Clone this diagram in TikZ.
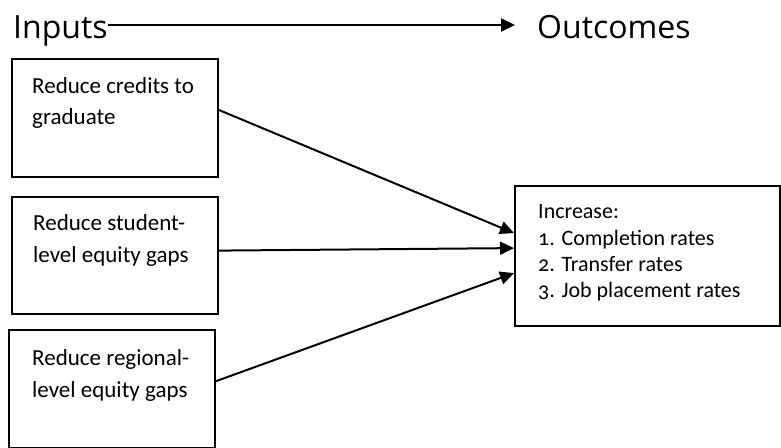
\documentclass[tikz,border=0pt]{standalone}
\usepackage{fontspec}
\setmainfont{Carlito}[Numbers=OldStyle]
\newfontfamily\titlefont{Open Sans}
\usetikzlibrary{arrows.meta}
\begin{document}
\begin{tikzpicture}[x=1pt,y=1pt,
  box/.style={draw=black, line width=2.2pt, anchor=north west, inner sep=0pt},
  txt/.style={anchor=base west, inner sep=0pt, font=\fontsize{23}{28}\selectfont},
  otxt/.style={anchor=base west, inner sep=0pt, font=\fontsize{22}{26}\selectfont},
  ttl/.style={anchor=base west, inner sep=0pt, font=\titlefont\fontsize{32}{38}\selectfont},
  arr/.style={line width=2pt, -{Triangle[length=14pt,width=13pt]}}]
\useasboundingbox (0,0) rectangle (781,-447);
% titles
\node[ttl] (inp) at (13,-38) {Inputs};
\node[ttl] (outc) at (537,-38) {Outcomes};
\draw[arr] ([yshift=13pt]inp.base east) -- ([yshift=13pt,xshift=-22pt]outc.base west);
% input boxes
\node[box, minimum width=206pt, minimum height=118pt] (b1) at (11,-58) {};
\node[box, minimum width=206pt, minimum height=117pt] (b2) at (11,-196) {};
\node[box, minimum width=206pt, minimum height=118pt] (b3) at (8,-329) {};
\node[txt] (t1a) at (32,-93) {Reduce credits to};
\node[txt] (t1b) at (32,-124) {graduate};
\node[txt] (t2a) at (33,-230) {Reduce student-};
\node[txt] (t2b) at (33,-262) {level equity gaps};
\node[txt] (t3a) at (32,-365) {Reduce regional-};
\node[txt] (t3b) at (32,-397) {level equity gaps};
% outcome box
\node[box, minimum width=265pt, minimum height=140pt] (out) at (514,-185) {};
\node[otxt] (o1) at (538,-218) {Increase:};
\node[otxt] (o2) at (538,-245) {1. Completion rates};
\node[otxt] (o3) at (538,-271) {2. Transfer rates};
\node[otxt] (o4) at (538,-297) {3. Job placement rates};
% connectors
\draw[arr] ([yshift=8pt]b1.east) -- ([yshift=23pt]out.west);
\draw[arr] ([yshift=5pt]b2.east) -- ([yshift=8pt]out.west);
\draw[arr] ([yshift=8pt]b3.east) -- ([yshift=-17pt]out.west);
\end{tikzpicture}
\end{document}
